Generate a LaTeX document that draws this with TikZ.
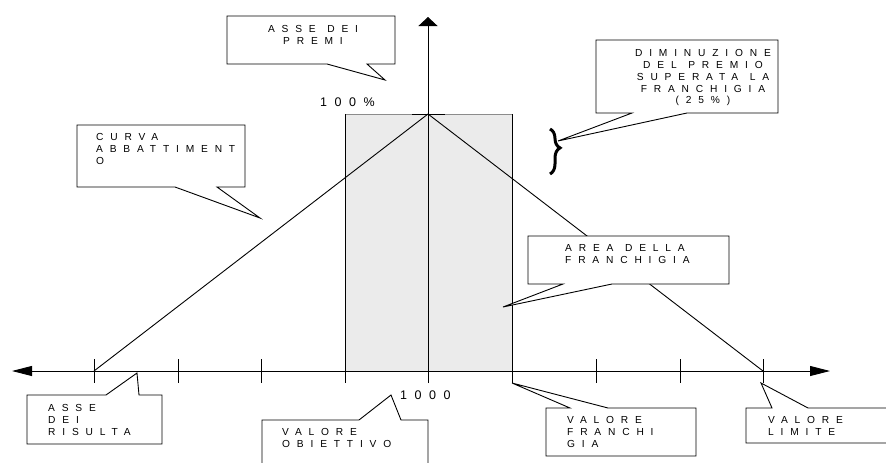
\documentclass[tikz,border=0pt]{standalone}
\usepackage{fontspec}
\usetikzlibrary{arrows.meta,decorations.pathreplacing}
\newfontfamily\calloutfont[LetterSpace=67,WordSpace=1.2]{Liberation Sans}
\newfontfamily\valuefont[LetterSpace=60]{Liberation Sans}
\newcommand\calloutsetup{\calloutfont\fontsize{10.2}{11.9}\selectfont}
\begin{document}
\begin{tikzpicture}[x=1pt,y=-1pt,
  line join=miter,
  thinline/.style={line width=0.9pt,draw=black},
  bubble/.style={line width=0.9pt,draw=black,fill=white},
  lbl/.style={inner sep=0pt,font=\calloutsetup},
  lblL/.style={lbl,align=left,anchor=north west},
  lblC/.style={lbl,align=center,anchor=north},
  val/.style={inner sep=0pt,anchor=north west,font=\valuefont\fontsize{12.5}{14}\selectfont},
  tickmark/.style={line width=0.9pt}]
\clip (0,0) rectangle (886,463);
\fill[white] (0,0) rectangle (886,463);

% key points of the graph
\coordinate (L) at (94,371);
\coordinate (P) at (428,114);
\coordinate (R) at (763,371);
\coordinate (xl) at (12,371);
\coordinate (xr) at (830,371);
\coordinate (yb) at (428,383);
\coordinate (yt) at (428,17);

% deductible area
\fill[black!8] (345,114) rectangle (512,371);
\draw[black!45,line width=0.9pt] (345,114) -- (512,114);
\draw[thinline] (412,114) -- (445,114);
\draw[thinline] (345,114) -- (345,383);
\draw[thinline] (512,114) -- (512,383);

% axes and ticks
\draw[thinline,{Triangle[length=20pt,width=10pt]}-{Triangle[length=20pt,width=10pt]}] (xl) -- (xr);
\draw[thinline,-{Triangle[length=9pt,width=19pt]}] (yb) -- (yt);
\foreach \tx in {94,178,261,596,680,763}
  \draw[tickmark] (\tx,359) -- (\tx,383);

% reduction curve
\draw[thinline] (L) -- (P) -- (R);

% brace next to the curve
\draw[line width=3pt,decorate,decoration={brace,amplitude=10pt,aspect=0.42}] (550,129) -- (550,174);

% value labels
\node[val] (v100) at (320,98) {100\%};
\node[val] (v1000) at (400,391) {1000};

% callouts
\draw[bubble] (227,16) -- (395,16) -- (395,64) -- (367,64) -- (385,80) -- (327,64) -- (227,64) -- cycle;
\node[lblC] (tpremi) at (313,25) {ASSE DEI\\PREMI};

\draw[bubble] (596,40) -- (778,40) -- (778,113) -- (687,113) -- (558,141) -- (632,113) -- (596,113) -- cycle;
\node[lblC] (tdimin) at (703,49) {DIMINUZIONE\\DEL PREMIO\\SUPERATA LA\\FRANCHIGIA\\(25\%)};

\draw[bubble] (77,125) -- (245,125) -- (245,187) -- (217,187) -- (260,218) -- (175,187) -- (77,187) -- cycle;
\node[lblL] (tcurva) at (96,133) {CURVA\\ABBATTIMENT\\O};

\draw[bubble] (528,236) -- (729,236) -- (729,284) -- (612,284) -- (503,307) -- (563,284) -- (528,284) -- cycle;
\node[lblL] (tarea) at (565,244) {AREA DELLA\\FRANCHIGIA};

\draw[bubble] (27,395) -- (106,395) -- (137,373) -- (139,395) -- (162,395) -- (162,444) -- (27,444) -- cycle;
\node[lblL] (trisult) at (48,404) {ASSE\\DEI\\RISULTA};

\draw[bubble] (262,470) -- (262,420) -- (359,420) -- (391,395) -- (401,420) -- (428,420) -- (428,470);
\node[lblL] (tobiet) at (282,428) {VALORE\\OBIETTIVO};

\draw[bubble] (546,408) -- (570,408) -- (512,383) -- (608,408) -- (696,408) -- (696,456) -- (546,456) -- cycle;
\node[lblL] (tfranch) at (567,416) {VALORE\\FRANCHI\\GIA};

\draw[bubble] (746,408) -- (772,408) -- (761,383) -- (808,408) -- (892,408) -- (892,443) -- (746,443) -- cycle;
\node[lblL] (tlimite) at (768,416) {VALORE\\LIMITE};
\end{tikzpicture}
\end{document}
